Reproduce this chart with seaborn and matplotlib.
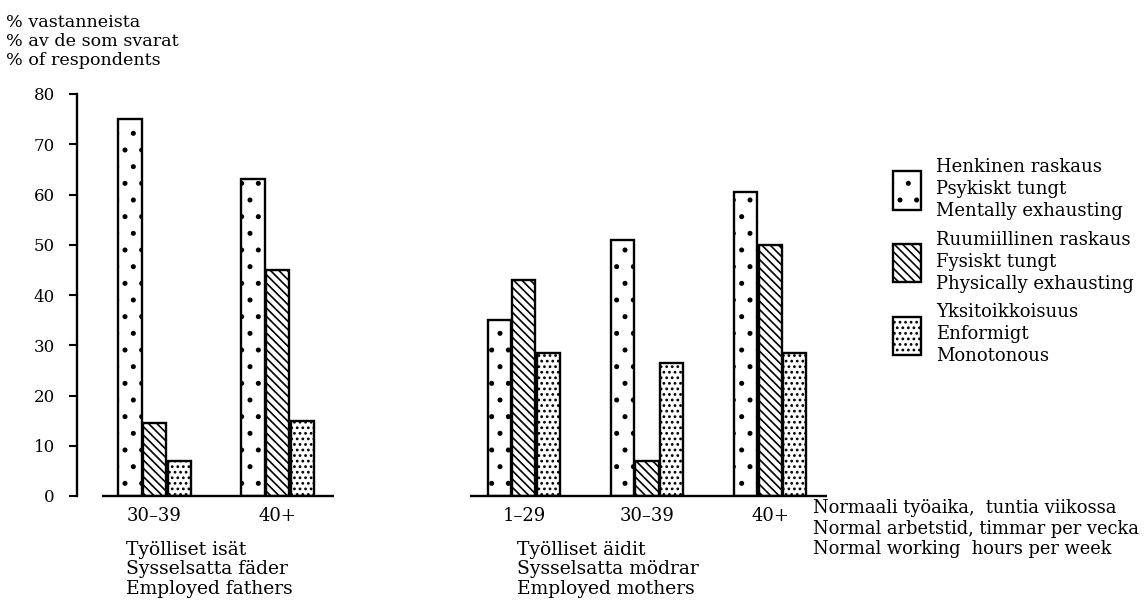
import numpy as np
import pandas as pd
import matplotlib
matplotlib.use("Agg")
import matplotlib.pyplot as plt
import seaborn as sns
from matplotlib.patches import Patch

# ---------------- data ----------------
group_keys = ["f_30_39", "f_40", "gap", "m_1_29", "m_30_39", "m_40"]
tick_labels = ["30–39", "40+", "", "1–29", "30–39", "40+"]
data_groups = ["f_30_39", "f_40", "m_1_29", "m_30_39", "m_40"]

series_names = [
    "Henkinen raskaus\nPsykiskt tungt\nMentally exhausting",
    "Ruumiillinen raskaus\nFysiskt tungt\nPhysically exhausting",
    "Yksitoikkoisuus\nEnformigt\nMonotonous",
]
mental = [75, 63, 35, 51, 60.5]
physical = [14.5, 45, 43, 7, 50]
monotonous = [7, 15, 28.5, 26.5, 28.5]

yaxis_title = ["% vastanneista", "% av de som svarat", "% of respondents"]
fathers_title = ["Työlliset isät", "Sysselsatta fäder", "Employed fathers"]
mothers_title = ["Työlliset äidit", "Sysselsatta mödrar", "Employed mothers"]
xaxis_title = ["Normaali työaika,  tuntia viikossa",
               "Normal arbetstid, timmar per vecka",
               "Normal working  hours per week"]
yticks = [0, 10, 20, 30, 40, 50, 60, 70, 80]

rows = []
for name, vals in zip(series_names, [mental, physical, monotonous]):
    for g, v in zip(data_groups, vals):
        rows.append({"group": g, "series": name, "value": v})
df = pd.DataFrame(rows)

# ---------------- style ----------------
sns.set_theme(style="white")
plt.rcParams["font.family"] = ["DejaVu Serif"]
plt.rcParams["text.color"] = "black"
plt.rcParams["axes.labelcolor"] = "black"
plt.rcParams["hatch.linewidth"] = 1.2
plt.rcParams["hatch.color"] = "black"

W, H = 1144, 602
fig = plt.figure(figsize=(W / 100, H / 100), dpi=100)
fig.patch.set_facecolor("white")

def fx(px):
    return px / W

def fy(py):
    return 1 - py / H

ax = fig.add_axes([fx(77), fy(496), fx(844) - fx(77), fy(94) - fy(496)])
ax.set_facecolor("white")

hatches = [".", "\\\\\\\\", "..."]

sns.barplot(data=df, x="group", y="value", hue="series",
            order=group_keys, hue_order=series_names,
            palette=["white"] * 3, saturation=1, edgecolor="black",
            linewidth=1.7, width=0.6, gap=0.06, errorbar=None,
            legend=False, ax=ax)

for cont, h in zip(ax.containers, hatches):
    for p in cont:
        p.set_hatch(h)

pos = {k: i for i, k in enumerate(group_keys)}
ax.hlines(0, pos["f_30_39"] - 0.43, pos["f_40"] + 0.46, color="black", lw=1.7, clip_on=False)
ax.hlines(0, pos["m_1_29"] - 0.44, pos["m_40"] + 0.46, color="black", lw=1.7, clip_on=False)

ax.set_xlim(-0.63, 5.6)
ax.set_ylim(0, 80)
ax.set_yticks(yticks)
ax.set_yticklabels([str(t) for t in yticks])
tick_pos = [pos[g] for g in data_groups]
ax.set_xticks(tick_pos)
ax.set_xticklabels([tick_labels[i] for i in tick_pos])
ax.set_xlabel("")
ax.set_ylabel("")
sns.despine(ax=ax, top=True, right=True, bottom=True, left=False)
ax.spines["left"].set_linewidth(1.7)
ax.spines["left"].set_color("black")
ax.tick_params(axis="y", direction="out", length=6, width=1.5, pad=10,
               labelsize=12, colors="black", left=True)
ax.tick_params(axis="x", length=0, pad=8, labelsize=13, colors="black")
ax.grid(False)

# ---------------- texts ----------------
for i, line in enumerate(yaxis_title):
    fig.text(fx(6), fy(27 + 19 * i), line, fontsize=12.6, va="baseline", ha="left", color="black")
for i, line in enumerate(fathers_title):
    fig.text(fx(126), fy(555 + 19.5 * i), line, fontsize=13.5, va="baseline", ha="left", color="black")
for i, line in enumerate(mothers_title):
    fig.text(fx(517), fy(555 + 19.5 * i), line, fontsize=13.5, va="baseline", ha="left", color="black")
for i, line in enumerate(xaxis_title):
    fig.text(fx(813), fy(513 + 20.5 * i), line, fontsize=12.9, va="baseline", ha="left", color="black")

# ---------------- legend ----------------
handles = [Patch(facecolor="white", edgecolor="black", hatch=h, linewidth=1.7)
           for h in hatches]
leg = fig.legend(handles, series_names, loc="upper left",
                 bbox_to_anchor=(fx(893), fy(158)), frameon=False,
                 handlelength=1.55, handleheight=2.9, handletextpad=0.85,
                 labelspacing=0.6, fontsize=13, borderaxespad=0, borderpad=0)
for t in leg.get_texts():
    t.set_linespacing(1.28)
    t.set_color("black")

fig.savefig("out.png", dpi=100, facecolor="white")
